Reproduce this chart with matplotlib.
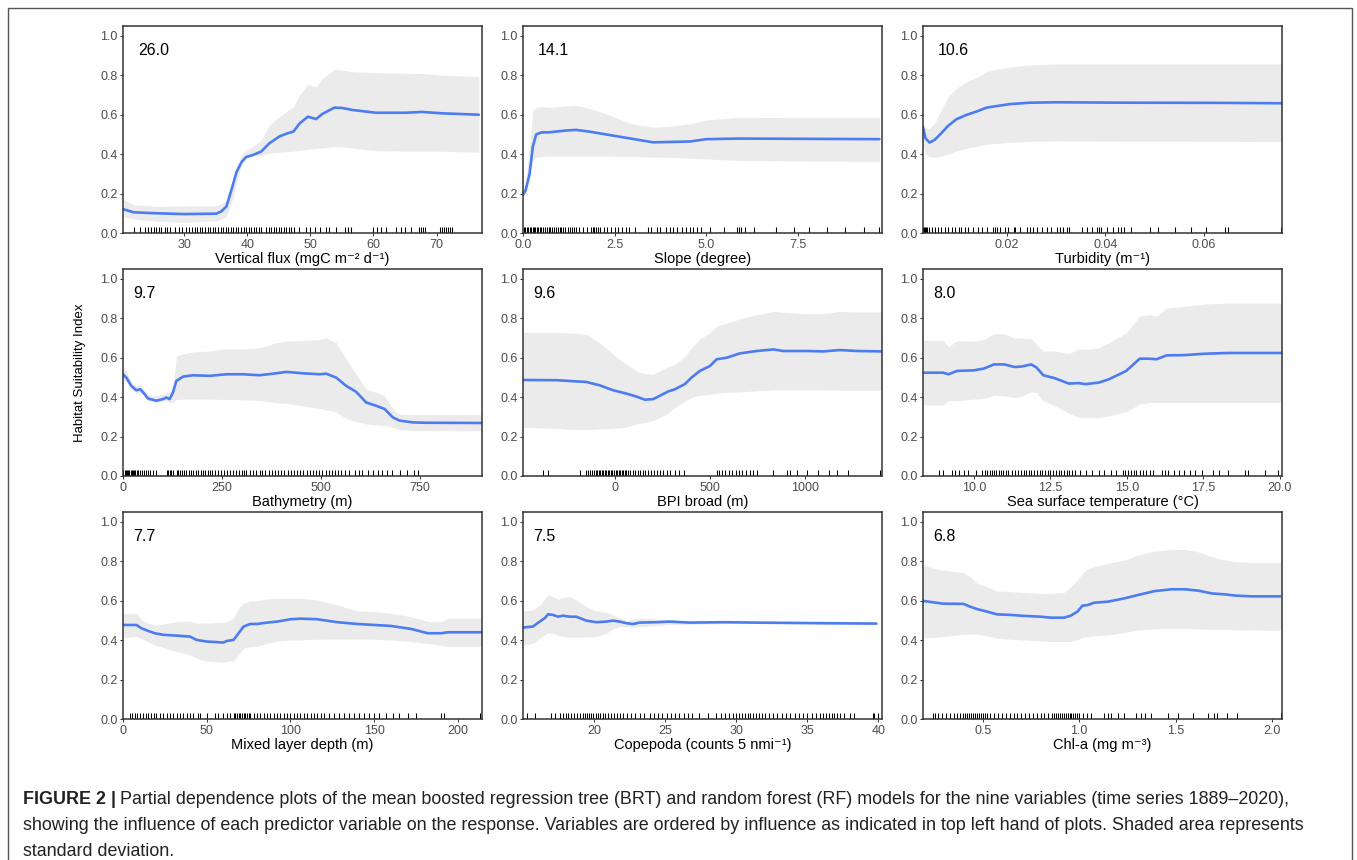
import matplotlib
matplotlib.use("Agg")
import matplotlib.pyplot as plt
from matplotlib.patches import Rectangle

plt.rcParams['font.family'] = ['Liberation Sans', 'DejaVu Sans']

# ---------------- data ----------------
flux_x = [20.4, 22, 25.6, 30, 35.1, 35.9, 36.7, 37.5, 38.3, 39.1, 39.8, 40.9, 42.2, 43.5, 45.1,
          46.4, 47.3, 48.3, 49.6, 50.9, 51.9, 53.8, 55.1, 56.7, 60.4, 65.1, 67.7, 70.9, 76.7]
flux_mean = [0.12, 0.105, 0.10, 0.096, 0.098, 0.11, 0.135, 0.22, 0.31, 0.36, 0.385, 0.396, 0.413, 0.455, 0.49,
             0.506, 0.514, 0.556, 0.59, 0.578, 0.604, 0.636, 0.634, 0.624, 0.61, 0.61, 0.614, 0.607, 0.60]
flux_hi = [0.17, 0.143, 0.135, 0.137, 0.138, 0.148, 0.165, 0.21, 0.33, 0.40, 0.42, 0.44, 0.47, 0.548, 0.59,
           0.62, 0.64, 0.70, 0.755, 0.74, 0.784, 0.83, 0.826, 0.818, 0.813, 0.81, 0.809, 0.80, 0.793]
flux_lo = [0.084, 0.07, 0.059, 0.054, 0.062, 0.07, 0.085, 0.15, 0.25, 0.35, 0.38, 0.39, 0.392, 0.405, 0.41,
           0.413, 0.415, 0.42, 0.425, 0.428, 0.432, 0.438, 0.437, 0.43, 0.418, 0.415, 0.415, 0.415, 0.41]
flux_rug = [22, 23, 23.8, 24.3, 24.8, 25.2, 25.6, 26.0, 26.4, 26.9, 27.3, 27.8, 28.5, 29.2, 29.6, 30.3,
            30.8, 31.3, 31.7, 32.1, 32.5, 32.9, 33.3, 33.7, 34.1, 34.5, 34.9, 35.3, 35.8, 36.2, 36.6, 37.0,
            37.4, 37.8, 38.2, 38.6, 39.0, 39.4, 39.8, 40.2, 40.6, 41.0, 41.4, 41.8, 42.2, 43.0, 43.4, 43.8,
            44.2, 44.6, 45.0, 45.4, 45.8, 46.2, 46.6, 47.0, 47.4, 48.2, 49.3, 50.0, 50.8, 51.6, 52.4, 53.0,
            54.0, 55.5, 56.0, 56.5, 60.0, 60.5, 61.2, 62.0, 63.5, 64.3, 65.0, 66.0, 67.2, 67.5, 67.8, 68.1,
            70.5, 70.9, 71.2, 71.5, 71.8, 72.1, 72.4]

slope_x = [0, 0.07, 0.18, 0.27, 0.36, 0.5, 0.73, 1.18, 1.45, 1.82, 2.36, 2.91, 3.55, 4.09, 4.55, 5.0,
           5.91, 7.27, 9.73]
slope_mean = [0.194, 0.216, 0.30, 0.44, 0.50, 0.51, 0.511, 0.52, 0.523, 0.514, 0.497, 0.48, 0.46, 0.462,
              0.464, 0.476, 0.479, 0.478, 0.476]
slope_hi = [0.2, 0.25, 0.45, 0.62, 0.637, 0.64, 0.637, 0.644, 0.648, 0.632, 0.599, 0.556, 0.536, 0.543,
            0.553, 0.573, 0.587, 0.585, 0.585]
slope_lo = [0.19, 0.2, 0.28, 0.37, 0.385, 0.388, 0.39, 0.391, 0.391, 0.391, 0.39, 0.388, 0.385, 0.383,
            0.38, 0.376, 0.368, 0.366, 0.363]
slope_rug = [0.02, 0.06, 0.1, 0.14, 0.18, 0.22, 0.26, 0.3, 0.34, 0.38, 0.42, 0.46, 0.5, 0.55, 0.6, 0.65,
             0.7, 0.75, 0.8, 0.85, 0.9, 0.95, 1.0, 1.05, 1.1, 1.16, 1.22, 1.28, 1.34, 1.4, 1.46, 1.52,
             1.65, 1.75, 1.85, 1.9, 1.95, 2.0, 2.05, 2.1, 2.2, 2.3, 2.4, 2.5, 2.6, 2.7, 2.8, 2.9, 3.05,
             3.4, 3.5, 3.65, 3.75, 3.9, 4.0, 4.1, 4.2, 4.35, 4.45, 4.55, 4.65, 4.75, 4.85, 5.1, 5.5, 5.85,
             5.9, 5.95, 6.05, 6.3, 6.9, 7.4, 7.8, 8.3, 8.8, 9.3, 9.73]

turb_x = [0.00296, 0.00351, 0.00433, 0.00535, 0.00671, 0.00807, 0.00978, 0.01182, 0.01387, 0.01591,
          0.01796, 0.02068, 0.02477, 0.03022, 0.04385, 0.06429, 0.07588]
turb_mean = [0.54, 0.48, 0.459, 0.472, 0.506, 0.543, 0.577, 0.599, 0.616, 0.636, 0.644, 0.654, 0.661,
             0.663, 0.661, 0.66, 0.658]
turb_hi = [0.54, 0.53, 0.53, 0.556, 0.624, 0.691, 0.733, 0.767, 0.789, 0.818, 0.83, 0.843, 0.852, 0.857,
           0.857, 0.857, 0.857]
turb_lo = [0.45, 0.40, 0.385, 0.385, 0.39, 0.40, 0.415, 0.43, 0.44, 0.45, 0.455, 0.46, 0.465, 0.467,
           0.466, 0.465, 0.463]
turb_rug = [0.0030, 0.0032, 0.0034, 0.0036, 0.0038, 0.0043, 0.0049, 0.0054, 0.0060, 0.0067, 0.0074,
            0.0081, 0.0088, 0.0094, 0.0103, 0.0108, 0.0115, 0.0122, 0.0131, 0.0142, 0.0149, 0.0159,
            0.0173, 0.0176, 0.0180, 0.0186, 0.0197, 0.0203, 0.0214, 0.0217, 0.0227, 0.0241, 0.0248,
            0.0253, 0.0261, 0.0272, 0.0282, 0.0289, 0.0302, 0.0309, 0.0315, 0.0323, 0.0326, 0.0353,
            0.0364, 0.0374, 0.0384, 0.0387, 0.0391, 0.0404, 0.0415, 0.0425, 0.0432, 0.0439, 0.0452,
            0.0490, 0.0507, 0.0541, 0.0575, 0.0605, 0.0643, 0.0650, 0.0757]

bathy_x = [0, 8.4, 21, 33.7, 43.8, 54.7, 63.1, 84.2, 101, 109.4, 117.8, 126.3, 134.7, 151.5, 176.8,
           218.9, 261, 303, 345, 387, 412.5, 454.5, 496.6, 513.5, 538.7, 564, 589, 614.5, 640, 661,
           682, 698.7, 732, 766, 905]
bathy_mean = [0.516, 0.499, 0.457, 0.435, 0.44, 0.415, 0.393, 0.382, 0.39, 0.398, 0.39, 0.424, 0.482,
              0.504, 0.511, 0.508, 0.516, 0.516, 0.511, 0.521, 0.528, 0.521, 0.516, 0.519, 0.499, 0.457,
              0.427, 0.373, 0.356, 0.34, 0.297, 0.281, 0.272, 0.27, 0.269]
bathy_hi = [0.55, 0.533, 0.474, 0.457, 0.47, 0.432, 0.415, 0.407, 0.415, 0.424, 0.427, 0.437, 0.608,
            0.62, 0.629, 0.634, 0.645, 0.645, 0.65, 0.676, 0.684, 0.687, 0.692, 0.70, 0.676, 0.592,
            0.516, 0.44, 0.424, 0.407, 0.34, 0.314, 0.311, 0.311, 0.311]
bathy_lo = [0.49, 0.477, 0.44, 0.42, 0.424, 0.407, 0.382, 0.373, 0.382, 0.382, 0.373, 0.376, 0.387,
            0.39, 0.39, 0.39, 0.388, 0.387, 0.383, 0.373, 0.368, 0.356, 0.343, 0.336, 0.323, 0.292,
            0.276, 0.264, 0.26, 0.255, 0.247, 0.235, 0.23, 0.23, 0.23]
bathy_rug = [1, 4, 7, 10, 13, 16, 19, 22, 25, 28, 31, 35, 39, 43, 47, 52, 57, 62, 68, 75, 84, 110, 114,
             118, 122, 126, 136, 140, 145, 150, 155, 160, 166, 172, 178, 184, 190, 196, 202, 208, 214,
             220, 226, 232, 240, 248, 256, 262, 270, 278, 286, 293, 300, 306, 312, 320, 328, 336, 345,
             352, 360, 368, 376, 384, 392, 400, 408, 416, 424, 432, 440, 448, 456, 464, 472, 480, 488,
             496, 504, 512, 520, 528, 536, 544, 552, 560, 570, 585, 595, 605, 620, 632, 645, 655, 668,
             680, 700, 718, 735, 745]

bpi_x = [-482, -307, -202, -149, -79, -9, 61, 114, 158, 202, 237, 281, 316, 368, 403, 447, 500, 535,
         588, 658, 745, 833, 886, 1009, 1096, 1184, 1272, 1403]
bpi_mean = [0.487, 0.486, 0.48, 0.477, 0.46, 0.435, 0.418, 0.403, 0.387, 0.39, 0.407, 0.429, 0.44,
            0.466, 0.499, 0.533, 0.558, 0.592, 0.60, 0.622, 0.634, 0.642, 0.634, 0.634, 0.632, 0.639,
            0.634, 0.632]
bpi_hi = [0.729, 0.729, 0.723, 0.718, 0.676, 0.617, 0.566, 0.533, 0.519, 0.516, 0.533, 0.555, 0.566,
          0.605, 0.65, 0.696, 0.726, 0.76, 0.776, 0.797, 0.818, 0.835, 0.83, 0.824, 0.823, 0.835, 0.832,
          0.832]
bpi_lo = [0.247, 0.242, 0.235, 0.235, 0.239, 0.242, 0.247, 0.264, 0.272, 0.281, 0.297, 0.319, 0.348,
          0.381, 0.398, 0.41, 0.415, 0.42, 0.424, 0.427, 0.432, 0.437, 0.437, 0.437, 0.437, 0.435, 0.435,
          0.435]
bpi_rug = [-377, -351, -184, -149, -140, -130, -120, -110, -100, -92, -84, -76, -68, -60, -52, -44,
           -36, -28, -20, -12, -4, 4, 12, 20, 28, 36, 44, 52, 60, 70, 82, 95, 108, 120, 134, 146, 160,
           175, 190, 205, 220, 240, 255, 272, 290, 315, 335, 365, 535, 550, 565, 580, 600, 615, 635, 655,
           670, 690, 710, 728, 745, 833, 903, 921, 956, 1009, 1070, 1123, 1166, 1228, 1394]

sst_x = [8.34, 9.0, 9.17, 9.45, 10.0, 10.33, 10.66, 11.0, 11.33, 11.55, 11.88, 12.05, 12.27, 12.65,
         13.1, 13.43, 13.65, 14.09, 14.42, 14.98, 15.42, 15.75, 15.97, 16.3, 16.86, 17.52, 18.3, 20.07]
sst_mean = [0.524, 0.524, 0.516, 0.533, 0.536, 0.545, 0.566, 0.566, 0.553, 0.555, 0.566, 0.55, 0.511,
            0.496, 0.469, 0.471, 0.466, 0.474, 0.491, 0.533, 0.595, 0.595, 0.592, 0.612, 0.613, 0.62,
            0.624, 0.624]
sst_hi = [0.689, 0.687, 0.655, 0.687, 0.684, 0.692, 0.721, 0.721, 0.70, 0.70, 0.697, 0.667, 0.634,
          0.634, 0.62, 0.645, 0.642, 0.65, 0.676, 0.726, 0.81, 0.818, 0.81, 0.852, 0.86, 0.872, 0.877,
          0.877]
sst_lo = [0.36, 0.36, 0.382, 0.382, 0.39, 0.393, 0.41, 0.407, 0.398, 0.403, 0.427, 0.424, 0.382, 0.356,
          0.319, 0.297, 0.296, 0.296, 0.306, 0.326, 0.365, 0.373, 0.373, 0.373, 0.373, 0.373, 0.373,
          0.373]
sst_rug = [8.87, 9.0, 9.28, 9.39, 9.5, 9.67, 9.8, 10.06, 10.28, 10.36, 10.44, 10.52, 10.59, 10.66,
           10.74, 10.82, 10.88, 10.96, 11.05, 11.13, 11.24, 11.35, 11.46, 11.55, 11.63, 11.71, 11.79,
           11.88, 11.97, 12.06, 12.15, 12.23, 12.32, 12.41, 12.5, 12.59, 12.68, 12.77, 12.85, 12.94,
           13.03, 13.12, 13.21, 13.32, 13.48, 13.65, 13.87, 14.09, 14.26, 14.48, 14.65, 14.87, 14.95,
           15.04, 15.13, 15.22, 15.31, 15.42, 15.53, 15.64, 15.75, 15.84, 16.14, 16.25, 16.36, 16.53,
           16.69, 16.86, 17.08, 17.24, 17.47, 17.8, 18.02, 18.3, 18.85, 18.96, 19.51, 19.95]

mld_x = [0, 8, 11, 15, 19, 24, 32, 40, 44, 50, 60, 62, 66, 69, 72, 76, 80, 86, 92, 100, 106, 116, 128,
         140, 150, 160, 172, 182, 190, 194, 214]
mld_mean = [0.477, 0.477, 0.46, 0.447, 0.435, 0.427, 0.423, 0.418, 0.401, 0.393, 0.388, 0.396, 0.401,
            0.435, 0.469, 0.482, 0.482, 0.489, 0.494, 0.506, 0.509, 0.506, 0.491, 0.482, 0.477, 0.472,
            0.457, 0.435, 0.435, 0.44, 0.44]
mld_hi = [0.536, 0.536, 0.503, 0.486, 0.477, 0.481, 0.494, 0.497, 0.486, 0.486, 0.491, 0.494, 0.511,
          0.562, 0.587, 0.599, 0.60, 0.609, 0.612, 0.612, 0.612, 0.604, 0.578, 0.548, 0.545, 0.536,
          0.519, 0.494, 0.494, 0.511, 0.511]
mld_lo = [0.413, 0.418, 0.41, 0.39, 0.376, 0.363, 0.342, 0.325, 0.309, 0.292, 0.288, 0.292, 0.295,
          0.325, 0.359, 0.368, 0.368, 0.384, 0.396, 0.401, 0.401, 0.405, 0.406, 0.406, 0.405, 0.401,
          0.393, 0.384, 0.373, 0.368, 0.368]
mld_rug = [4, 5.5, 7, 8.5, 10, 12, 13.5, 15, 17, 18.5, 20, 22, 24, 26, 28, 30, 32, 34, 36, 38, 40, 42,
           45, 46, 50, 55, 57, 60, 62, 64, 66, 67, 68, 69, 70, 71, 72, 73, 74, 75, 76, 78, 80, 82, 84,
           86, 88, 90, 92, 94, 96, 98, 100, 102, 104, 106, 108, 110, 112, 114, 116, 118, 120, 123, 126,
           129, 132, 135, 138, 141, 144, 147, 150, 153, 157, 161, 165, 170, 175, 190, 192, 213]

cop_x = [15, 15.7, 16.17, 16.52, 16.76, 17.11, 17.46, 17.81, 18.28, 18.75, 19.45, 20.16, 20.86, 21.33,
         21.8, 22.27, 22.74, 23.2, 24.38, 25.31, 26.72, 29.06, 31.41, 36.1, 39.85]
cop_mean = [0.464, 0.469, 0.494, 0.511, 0.531, 0.528, 0.519, 0.524, 0.519, 0.519, 0.499, 0.491, 0.494,
            0.499, 0.494, 0.486, 0.482, 0.489, 0.491, 0.494, 0.489, 0.491, 0.489, 0.486, 0.484]
cop_hi = [0.548, 0.553, 0.578, 0.609, 0.629, 0.621, 0.607, 0.616, 0.621, 0.604, 0.57, 0.548, 0.541,
          0.528, 0.511, 0.497, 0.506, 0.514, 0.506, 0.503, 0.494, 0.494, 0.491, 0.49, 0.487]
cop_lo = [0.376, 0.384, 0.41, 0.427, 0.438, 0.435, 0.423, 0.418, 0.415, 0.415, 0.416, 0.418, 0.435,
          0.457, 0.469, 0.469, 0.465, 0.469, 0.474, 0.48, 0.48, 0.484, 0.484, 0.48, 0.48]
cop_rug = [15.3, 15.82, 17.0, 17.23, 17.6, 17.8, 18.0, 18.2, 18.4, 18.6, 18.8, 19.0, 19.2, 19.35, 19.5,
           19.65, 19.8, 19.95, 20.1, 20.25, 20.4, 20.6, 20.8, 21.0, 21.2, 21.4, 21.6, 21.8, 22.0, 22.3,
           22.6, 22.9, 23.2, 23.5, 23.9, 24.2, 24.5, 24.8, 25.1, 25.4, 25.7, 26.0, 26.3, 26.6, 26.9,
           27.4, 28.0, 28.6, 28.9, 29.2, 29.5, 29.8, 30.0, 30.2, 30.4, 30.6, 30.8, 31.0, 31.2, 31.4,
           31.6, 31.8, 32.0, 32.3, 32.6, 32.9, 33.2, 33.5, 33.8, 34.1, 34.4, 34.7, 35.0, 35.3, 35.6,
           35.9, 36.1, 36.3, 36.5, 36.7, 36.9, 37.1, 37.3, 37.6, 38.0, 38.3, 39.6, 39.7, 39.96]

chl_x = [0.19, 0.242, 0.294, 0.399, 0.434, 0.469, 0.521, 0.573, 0.643, 0.713, 0.8, 0.852, 0.922, 0.956,
         0.991, 1.017, 1.044, 1.078, 1.148, 1.235, 1.305, 1.392, 1.479, 1.549, 1.618, 1.688, 1.758,
         1.81, 1.897, 2.045]
chl_mean = [0.599, 0.592, 0.585, 0.584, 0.57, 0.558, 0.545, 0.531, 0.528, 0.523, 0.519, 0.514, 0.514,
            0.524, 0.545, 0.575, 0.578, 0.59, 0.595, 0.612, 0.629, 0.649, 0.658, 0.658, 0.651, 0.637,
            0.632, 0.626, 0.622, 0.622]
chl_hi = [0.781, 0.764, 0.755, 0.742, 0.722, 0.688, 0.671, 0.649, 0.646, 0.642, 0.637, 0.637, 0.642,
          0.671, 0.705, 0.739, 0.761, 0.772, 0.789, 0.806, 0.831, 0.852, 0.86, 0.86, 0.848, 0.823,
          0.806, 0.798, 0.794, 0.794]
chl_lo = [0.413, 0.413, 0.418, 0.43, 0.43, 0.43, 0.423, 0.41, 0.405, 0.401, 0.396, 0.393, 0.393, 0.393,
          0.401, 0.413, 0.418, 0.422, 0.427, 0.438, 0.452, 0.457, 0.46, 0.46, 0.457, 0.455, 0.455,
          0.452, 0.452, 0.449]
chl_rug = [0.242, 0.25, 0.27, 0.29, 0.31, 0.33, 0.35, 0.365, 0.38, 0.395, 0.41, 0.42, 0.43, 0.44, 0.45,
           0.46, 0.47, 0.48, 0.49, 0.5, 0.51, 0.52, 0.54, 0.56, 0.58, 0.6, 0.62, 0.64, 0.66, 0.68, 0.70,
           0.72, 0.74, 0.76, 0.78, 0.8, 0.82, 0.84, 0.86, 0.87, 0.88, 0.89, 0.9, 0.91, 0.92, 0.93, 0.94,
           0.95, 0.96, 0.97, 0.98, 0.99, 1.0, 1.02, 1.04, 1.06, 1.13, 1.15, 1.165, 1.2, 1.235, 1.296,
           1.32, 1.34, 1.375, 1.46, 1.514, 1.592, 1.67, 1.697, 1.714, 1.766, 1.819, 2.045]

influence = ['26.0', '14.1', '10.6', '9.7', '9.6', '8.0', '7.7', '7.5', '6.8']
xlabels = ['Vertical flux (mgC m\u207b\u00b2 d\u207b\u00b9)', 'Slope (degree)', 'Turbidity (m\u207b\u00b9)',
           'Bathymetry (m)', 'BPI broad (m)', 'Sea surface temperature (\u00b0C)',
           'Mixed layer depth (m)', 'Copepoda (counts 5 nmi\u207b\u00b9)', 'Chl-a (mg m\u207b\u00b3)']
xlims = [(20.3, 77.2), (0, 9.8), (0.003, 0.0759), (0, 907), (-482, 1404), (8.34, 20.07),
         (0, 214.4), (15.0, 40.25), (0.19, 2.052)]
xticks = [[30, 40, 50, 60, 70], [0, 2.5, 5.0, 7.5], [0.02, 0.04, 0.06], [0, 250, 500, 750],
          [0, 500, 1000], [10, 12.5, 15, 17.5, 20], [0, 50, 100, 150, 200], [20, 25, 30, 35, 40],
          [0.5, 1.0, 1.5, 2.0]]
xticklabels = [['30', '40', '50', '60', '70'], ['0.0', '2.5', '5.0', '7.5'], ['0.02', '0.04', '0.06'],
               ['0', '250', '500', '750'], ['0', '500', '1000'], ['10.0', '12.5', '15.0', '17.5', '20.0'],
               ['0', '50', '100', '150', '200'], ['20', '25', '30', '35', '40'], ['0.5', '1.0', '1.5', '2.0']]

panels = [(flux_x, flux_mean, flux_lo, flux_hi, flux_rug),
          (slope_x, slope_mean, slope_lo, slope_hi, slope_rug),
          (turb_x, turb_mean, turb_lo, turb_hi, turb_rug),
          (bathy_x, bathy_mean, bathy_lo, bathy_hi, bathy_rug),
          (bpi_x, bpi_mean, bpi_lo, bpi_hi, bpi_rug),
          (sst_x, sst_mean, sst_lo, sst_hi, sst_rug),
          (mld_x, mld_mean, mld_lo, mld_hi, mld_rug),
          (cop_x, cop_mean, cop_lo, cop_hi, cop_rug),
          (chl_x, chl_mean, chl_lo, chl_hi, chl_rug)]

# ---------------- layout ----------------
W, H = 1357, 860
fig = plt.figure(figsize=(W / 100, H / 100), dpi=100)
fig.patch.set_facecolor('white')

# page frame
fig.add_artist(Rectangle((8 / W, -0.05), (1352 - 8) / W, 1.05 - 8 / H, transform=fig.transFigure,
                         fill=False, edgecolor='#555555', linewidth=1.0))

col_left = [123, 523, 923]
row_top = [26, 269, 512]
aw, ah = 359, 207

for i, (x, m, lo, hi, rug) in enumerate(panels):
    r, c = divmod(i, 3)
    ax = fig.add_axes([col_left[c] / W, 1 - (row_top[r] + ah) / H, aw / W, ah / H])
    ax.fill_between(x, lo, hi, color='#ebebeb', linewidth=0)
    ax.plot(x, m, color='#4d7cf0', linewidth=1.9, solid_capstyle='round')
    ax.vlines(rug, 0, 0.03, transform=ax.get_xaxis_transform(), color='black', linewidth=0.75)
    ax.set_xlim(*xlims[i])
    ax.set_ylim(0, 1.05)
    ax.set_yticks([0, 0.2, 0.4, 0.6, 0.8, 1.0])
    ax.set_yticklabels(['0.0', '0.2', '0.4', '0.6', '0.8', '1.0'])
    ax.set_xticks(xticks[i])
    ax.set_xticklabels(xticklabels[i])
    ax.tick_params(length=2.5, width=0.7, color='#333333', labelsize=9, labelcolor='#4d4d4d', pad=1.5)
    for s in ax.spines.values():
        s.set_color('#333333')
        s.set_linewidth(1.1)
    ax.set_xlabel(xlabels[i], fontsize=10.5, labelpad=1)
    tx = 0.042 if r == 0 else 0.028
    ax.text(tx, 0.88, influence[i], transform=ax.transAxes, fontsize=11.5, ha='left', va='center')

fig.text(80 / W, 1 - 373 / H, 'Habitat Suitability Index', rotation=90, fontsize=9.5,
         ha='center', va='center')

# ---------------- caption ----------------
cap_lines = ['Partial dependence plots of the mean boosted regression tree (BRT) and random forest (RF) '
             'models for the nine variables (time series 1889\u20132020),',
             'showing the influence of each predictor variable on the response. Variables are ordered by '
             'influence as indicated in top left hand of plots. Shaded area represents',
             'standard deviation.']
cap_y = [799, 826, 852]
cap_size = 12.9
bold = fig.text(23 / W, 1 - cap_y[0] / H, 'FIGURE 2 |', fontsize=cap_size, fontweight='bold',
                color='#222222', va='center', ha='left')
fig.canvas.draw()
bb = bold.get_window_extent(fig.canvas.get_renderer())
fig.text((bb.x1 + 4) / W, 1 - cap_y[0] / H, cap_lines[0], fontsize=cap_size, color='#222222',
         va='center', ha='left')
for line, yy in zip(cap_lines[1:], cap_y[1:]):
    fig.text(23 / W, 1 - yy / H, line, fontsize=cap_size, color='#222222', va='center', ha='left')

fig.savefig('out.png', dpi=100)
